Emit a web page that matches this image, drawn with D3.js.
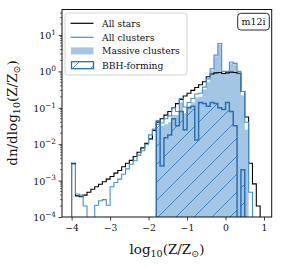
<!DOCTYPE html>
<html>
<head>
<meta charset="utf-8">
<script src="https://cdn.jsdelivr.net/npm/d3@7"></script>
<style>
  body { margin: 0; background: #fff; }
  svg text { font-family: "DejaVu Serif", "Liberation Serif", serif; fill: #111; }
</style>
</head>
<body>
<div id="chart"></div>
<script>
// histogram bins in log10(Z/Zsun), width 0.1 dex
const binEdges = d3.range(51).map(i => Math.round((-4 + i * 0.1) * 10) / 10);

// dn/dlog10(Z/Zsun) per bin (0 = empty bin)
const allStars = [
  3.0e-3, 3.8e-4, 3.6e-4, 4.0e-4, 4.8e-4, 5.8e-4, 6.8e-4, 7.9e-4, 9.3e-4, 1.1e-3,
  1.3e-3, 1.6e-3, 1.9e-3, 2.4e-3, 3.0e-3, 3.6e-3, 4.6e-3, 6.0e-3, 7.9e-3, 1.05e-2,
  1.4e-2, 2.4e-2, 4.0e-2, 5.0e-2, 6.3e-2, 7.9e-2, 0.10, 0.13, 0.17, 0.21,
  0.25, 0.30, 0.36, 0.43, 0.52, 0.71, 0.85, 0.91, 0.93, 0.87,
  0.91, 0.95, 0.93, 0.89, 0.28, 0.056, 3.0e-3, 8.1e-4, 2.0e-4, 0
];
const allClusters = [
  2.8e-3, 4.3e-4, 4.0e-4, 2.0e-4, 0, 0, 2.1e-4, 2.8e-4, 3.0e-4, 2.1e-4,
  6.8e-4, 8.9e-4, 1.1e-3, 1.5e-3, 2.1e-3, 2.8e-3, 3.5e-3, 5.0e-3, 6.6e-3, 1.0e-2,
  1.8e-2, 2.6e-2, 3.5e-2, 3.8e-2, 5.0e-2, 6.0e-2, 0.10, 0.079, 0.18, 0.105,
  0.14, 0.18, 0.24, 0.25, 0.37, 0.62, 1.17, 2.8, 5.8, 1.0,
  1.0, 1.8, 1.66, 1.0, 0.28, 0.040, 4.8e-4, 0, 0, 0
];
const massiveClusters = [
  0, 0, 0, 0, 0, 0, 0, 0, 0, 0,
  0, 0, 0, 0, 0, 0, 0, 0, 0, 0,
  0, 0, 0.028, 0.032, 0.035, 0.040, 0.063, 0.063, 0.14, 0.071,
  0.11, 0.14, 0.19, 0.20, 0.32, 0.52, 1.05, 2.6, 5.5, 0.89,
  0.93, 1.66, 1.58, 0.89, 0.22, 0.025, 0, 0, 0, 0
];
const bbhForming = [
  0, 0, 0, 0, 0, 0, 0, 0, 0, 0,
  0, 0, 0, 0, 0, 0, 0, 0, 0, 0,
  0, 0, 0.043, 2.5e-3, 0.015, 0.018, 0.050, 0.032, 0.079, 0.025,
  0.10, 0.11, 0.013, 0.14, 0.13, 0.11, 0.14, 0.13, 0.10, 0.089,
  0.14, 0.079, 0.032, 0, 2.0e-3, 0, 0, 0, 0, 0
];

const xTicks = [-4, -3, -2, -1, 0, 1];
const yTicks = [1e-4, 1e-3, 1e-2, 1e-1, 1, 10];
const legendLabels = ["All stars", "All clusters", "Massive clusters", "BBH-forming"];
const panelLabel = "m12i";

const W = 282, H = 267;
const margin = {top: 9.5, right: 10.3, bottom: 50, left: 62};
const plotL = margin.left, plotR = W - margin.right;
const plotT = margin.top, plotB = H - margin.bottom;

const cStars = "#000000", cClusters = "#4a8fcf", cFill = "#a3c6e4", cBBH = "#2b6fb2";

const x = d3.scaleLinear().domain([-4.25, 1.2]).range([plotL, plotR]);
const y = d3.scaleLog().domain([1e-4, 50]).range([plotB, plotT]);

const svg = d3.select("#chart").append("svg")
    .attr("width", W).attr("height", H);

const defs = svg.append("defs");
defs.append("clipPath").attr("id", "plotClip")
  .append("rect").attr("x", plotL).attr("y", plotT)
  .attr("width", plotR - plotL).attr("height", plotB - plotT);
const hatch = defs.append("pattern").attr("id", "hatch")
  .attr("patternUnits", "userSpaceOnUse")
  .attr("width", 18).attr("height", 18)
  .attr("patternTransform", "translate(15,0)");
hatch.append("path")
  .attr("d", "M-4.5,4.5 l9,-9 M0,18 l18,-18 M13.5,22.5 l9,-9")
  .attr("stroke", cBBH).attr("stroke-width", 0.8);

// step outline points for a histogram
function stepPoints(vals){
  const pts = [[binEdges[0], 0]];
  vals.forEach((v, i) => {
    pts.push([binEdges[i], v]);
    pts.push([binEdges[i + 1], v]);
  });
  pts.push([binEdges[vals.length], 0]);
  return pts;
}
const yOf = v => v > 0 ? y(v) : plotB + 6;
const stepLine = d3.line().x(d => x(d[0])).y(d => yOf(d[1]));
const stepArea = d3.area().x(d => x(d[0])).y0(plotB + 6).y1(d => yOf(d[1]));

const plot = svg.append("g").attr("clip-path", "url(#plotClip)");

plot.append("path")
  .attr("d", stepArea(stepPoints(massiveClusters)))
  .attr("fill", cFill);

plot.append("path")
  .attr("d", stepLine(stepPoints(allStars)))
  .attr("fill", "none").attr("stroke", cStars).attr("stroke-width", 1.1);

plot.append("path")
  .attr("d", stepLine(stepPoints(allClusters)))
  .attr("fill", "none").attr("stroke", cClusters).attr("stroke-width", 1.1);

plot.append("path")
  .attr("d", stepArea(stepPoints(bbhForming)))
  .attr("fill", "url(#hatch)");
plot.append("path")
  .attr("d", stepLine(stepPoints(bbhForming)))
  .attr("fill", "none").attr("stroke", cBBH).attr("stroke-width", 1.5);

// axes
const xAxis = svg.append("g")
  .attr("transform", `translate(0,${plotB})`)
  .call(d3.axisBottom(x).tickValues(xTicks).tickSize(3.5).tickPadding(4)
    .tickFormat(d => d < 0 ? "\u2212" + Math.abs(d) : String(d)));
xAxis.select(".domain").remove();
xAxis.selectAll("text").attr("font-size", 9.2).attr("font-family", null);

const minorY = [];
for (let e = -4; e <= 1; e++) {
  for (let m = 2; m <= 9; m++) {
    const v = m * Math.pow(10, e);
    if (v < 50) minorY.push(v);
  }
}
svg.append("g").selectAll("line").data(minorY).join("line")
  .attr("x1", plotL - 2).attr("x2", plotL)
  .attr("y1", d => y(d)).attr("y2", d => y(d))
  .attr("stroke", "#111").attr("stroke-width", 0.6);

const yAxis = svg.append("g")
  .attr("transform", `translate(${plotL},0)`)
  .call(d3.axisLeft(y).tickValues(yTicks).tickSize(3.5).tickFormat(""));
yAxis.select(".domain").remove();
yAxis.selectAll(".tick").each(function(d){
  const e = Math.round(Math.log10(d));
  const t = d3.select(this).append("text")
    .attr("x", -6).attr("dy", "0.36em")
    .attr("text-anchor", "end").attr("font-size", 9.5).attr("fill", "#111");
  t.append("tspan").text("10");
  t.append("tspan").attr("dy", -4.2).attr("font-size", 7.3)
    .text(e < 0 ? "\u2212" + Math.abs(e) : String(e));
});
svg.selectAll(".tick line").attr("stroke", "#111").attr("stroke-width", 0.8);

// frame
svg.append("rect")
  .attr("x", plotL).attr("y", plotT)
  .attr("width", plotR - plotL).attr("height", plotB - plotT)
  .attr("fill", "none").attr("stroke", "#111").attr("stroke-width", 1);

// axis labels
const xl = svg.append("text")
  .attr("x", 167).attr("y", 254)
  .attr("text-anchor", "middle").attr("font-size", 13.5);
xl.append("tspan").text("log");
xl.append("tspan").attr("dy", 3).attr("font-size", 9.5).text("10");
xl.append("tspan").attr("dy", -3).text("(Z/Z");
xl.append("tspan").attr("dy", 3).attr("font-size", 9.5).text("\u2299");
xl.append("tspan").attr("dy", -3).text(")");

const yl = svg.append("text")
  .attr("transform", "translate(16.5,113) rotate(-90)")
  .attr("text-anchor", "middle").attr("font-size", 13.5);
yl.append("tspan").text("dn/dlog");
yl.append("tspan").attr("dy", 3).attr("font-size", 9.5).text("10");
yl.append("tspan").attr("dy", -3).text("(Z/Z");
yl.append("tspan").attr("dy", 3).attr("font-size", 9.5).text("\u2299");
yl.append("tspan").attr("dy", -3).text(")");

// legend
const lg = svg.append("g");
lg.append("rect")
  .attr("x", 65).attr("y", 13).attr("width", 122).attr("height", 62)
  .attr("rx", 2.5).attr("fill", "#fff").attr("fill-opacity", 0.85)
  .attr("stroke", "#cfcfcf").attr("stroke-width", 0.9);
const rowY = [23.3, 37.3, 50.9, 65.2];
lg.append("line").attr("x1", 70.5).attr("x2", 93.5).attr("y1", rowY[0]).attr("y2", rowY[0])
  .attr("stroke", cStars).attr("stroke-width", 1.2);
lg.append("line").attr("x1", 70.5).attr("x2", 93.5).attr("y1", rowY[1]).attr("y2", rowY[1])
  .attr("stroke", cClusters).attr("stroke-width", 1.2);
lg.append("rect").attr("x", 71).attr("y", rowY[2] - 3.5).attr("width", 22.5).attr("height", 7)
  .attr("fill", cFill);
lg.append("rect").attr("x", 71.5).attr("y", rowY[3] - 3.5).attr("width", 22).attr("height", 7)
  .attr("fill", "url(#hatch)").attr("stroke", cBBH).attr("stroke-width", 1.3);
lg.selectAll("text.lab").data(legendLabels).join("text")
  .attr("class", "lab")
  .attr("x", 102).attr("y", (d, i) => rowY[i] + 3.4)
  .attr("font-size", 9.2).text(d => d);

// panel label
svg.append("rect")
  .attr("x", 237.7).attr("y", 13.3).attr("width", 31.6).attr("height", 16.7)
  .attr("rx", 3).attr("fill", "#fff").attr("stroke", "#111").attr("stroke-width", 0.9);
svg.append("text").attr("x", 253.5).attr("y", 25.2)
  .attr("text-anchor", "middle").attr("font-size", 9.5).text(panelLabel);
</script>
</body>
</html>
